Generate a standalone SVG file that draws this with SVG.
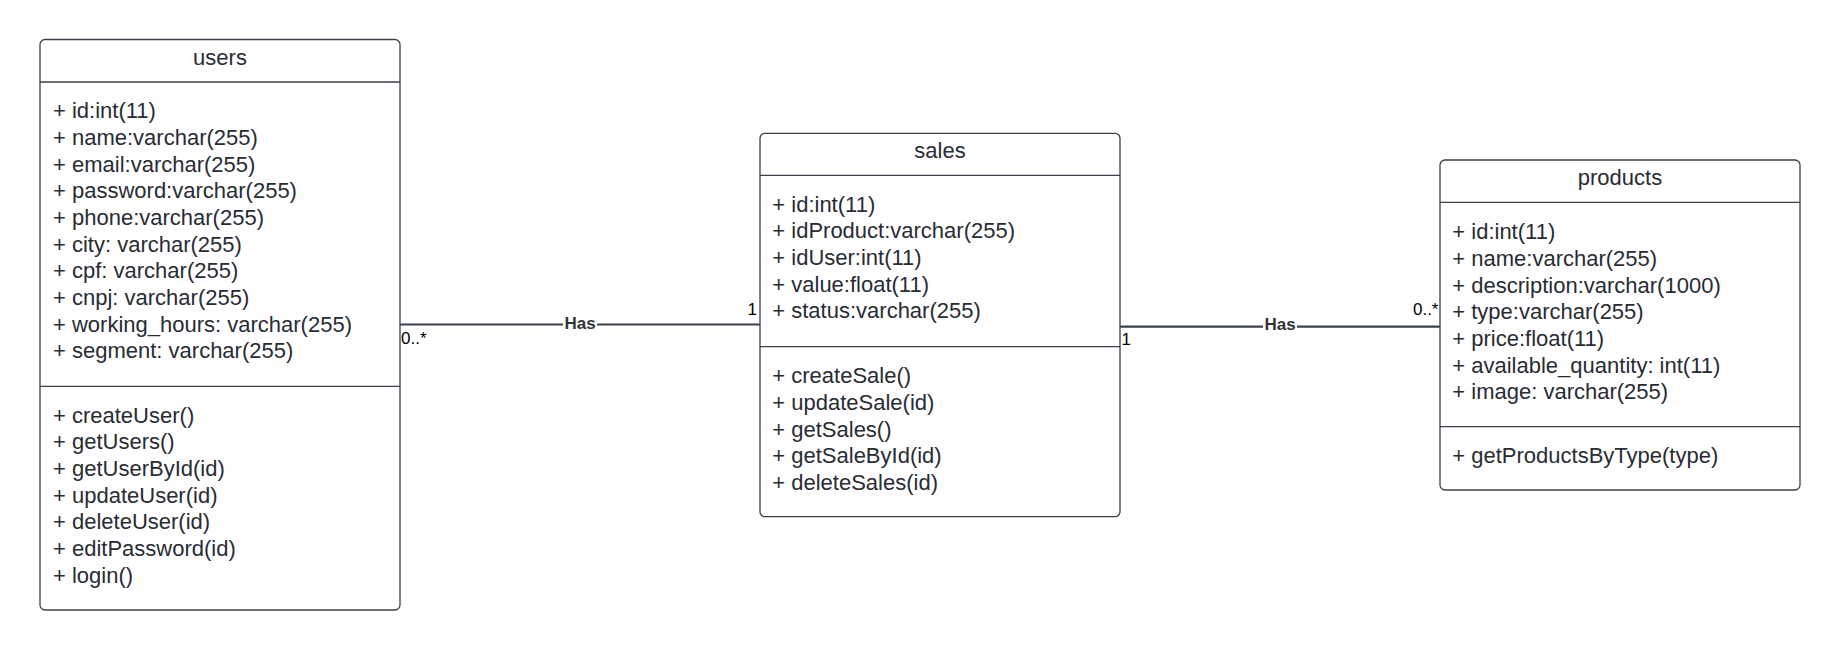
<svg xmlns="http://www.w3.org/2000/svg" width="1840" height="651" viewBox="0 0 1840 651">
<style>
.box{fill:#fff;stroke:#3a414a;stroke-width:1.3}
.div{stroke:#3a414a;stroke-width:1.3}
.t{font-family:"Liberation Sans",Arial,sans-serif;font-size:22px;fill:#282c33}
.title{text-anchor:middle}
.conn{stroke:#3a414a;stroke-width:2.2;fill:none}
.lbl{font-family:"Liberation Sans",Arial,sans-serif;font-size:17px;font-weight:bold;fill:#333;text-anchor:middle}
.m{font-family:"Liberation Sans",Arial,sans-serif;font-size:17px;fill:#000}
</style>
<rect width="1840" height="651" fill="#fff"/>
<g id="connectors">
  <line class="conn" x1="400" y1="324.5" x2="760" y2="324.5"/>
  <rect x="563" y="314" width="34" height="18" fill="#fff"/>
  <text class="lbl" x="580" y="328.5">Has</text>
  <text class="m" x="757" y="314.5" text-anchor="end">1</text>
  <text class="m" x="401" y="343.5">0..*</text>
  <line class="conn" x1="1120" y1="326.7" x2="1440" y2="326.7"/>
  <rect x="1263" y="316" width="34" height="18" fill="#fff"/>
  <text class="lbl" x="1280" y="329.5">Has</text>
  <text class="m" x="1121.5" y="344.5">1</text>
  <text class="m" x="1438.5" y="315" text-anchor="end">0..*</text>
</g>
<g id="users">
  <rect class="box" x="40" y="39.5" width="360" height="570.5" rx="5"/>
  <line class="div" x1="40" y1="82" x2="400" y2="82"/>
  <line class="div" x1="40" y1="386.3" x2="400" y2="386.3"/>
  <text class="t title" x="220" y="65">users</text>
  <text class="t" x="53">
    <tspan x="53" y="118.3">+ id:int(11)</tspan>
    <tspan x="53" y="145">+ name:varchar(255)</tspan>
    <tspan x="53" y="171.6">+ email:varchar(255)</tspan>
    <tspan x="53" y="198.3">+ password:varchar(255)</tspan>
    <tspan x="53" y="225">+ phone:varchar(255)</tspan>
    <tspan x="53" y="251.6">+ city: varchar(255)</tspan>
    <tspan x="53" y="278.3">+ cpf: varchar(255)</tspan>
    <tspan x="53" y="305">+ cnpj: varchar(255)</tspan>
    <tspan x="53" y="331.6">+ working_hours: varchar(255)</tspan>
    <tspan x="53" y="358.3">+ segment: varchar(255)</tspan>
  </text>
  <text class="t" x="53">
    <tspan x="53" y="422.7">+ createUser()</tspan>
    <tspan x="53" y="449.3">+ getUsers()</tspan>
    <tspan x="53" y="476">+ getUserById(id)</tspan>
    <tspan x="53" y="502.7">+ updateUser(id)</tspan>
    <tspan x="53" y="529.3">+ deleteUser(id)</tspan>
    <tspan x="53" y="556">+ editPassword(id)</tspan>
    <tspan x="53" y="582.7">+ login()</tspan>
  </text>
</g>
<g id="sales">
  <rect class="box" x="760" y="133.3" width="360" height="383.4" rx="5"/>
  <line class="div" x1="760" y1="175.3" x2="1120" y2="175.3"/>
  <line class="div" x1="760" y1="346.7" x2="1120" y2="346.7"/>
  <text class="t title" x="940" y="158.3">sales</text>
  <text class="t">
    <tspan x="772.3" y="211.7">+ id:int(11)</tspan>
    <tspan x="772.3" y="238.3">+ idProduct:varchar(255)</tspan>
    <tspan x="772.3" y="265">+ idUser:int(11)</tspan>
    <tspan x="772.3" y="291.7">+ value:float(11)</tspan>
    <tspan x="772.3" y="318.3">+ status:varchar(255)</tspan>
  </text>
  <text class="t">
    <tspan x="772.3" y="383.3">+ createSale()</tspan>
    <tspan x="772.3" y="410">+ updateSale(id)</tspan>
    <tspan x="772.3" y="436.7">+ getSales()</tspan>
    <tspan x="772.3" y="463.3">+ getSaleById(id)</tspan>
    <tspan x="772.3" y="490">+ deleteSales(id)</tspan>
  </text>
</g>
<g id="products">
  <rect class="box" x="1440" y="160" width="360" height="330" rx="5"/>
  <line class="div" x1="1440" y1="202.3" x2="1800" y2="202.3"/>
  <line class="div" x1="1440" y1="426.7" x2="1800" y2="426.7"/>
  <text class="t title" x="1620" y="185">products</text>
  <text class="t">
    <tspan x="1452.3" y="239.3">+ id:int(11)</tspan>
    <tspan x="1452.3" y="266">+ name:varchar(255)</tspan>
    <tspan x="1452.3" y="292.6">+ description:varchar(1000)</tspan>
    <tspan x="1452.3" y="319.3">+ type:varchar(255)</tspan>
    <tspan x="1452.3" y="346">+ price:float(11)</tspan>
    <tspan x="1452.3" y="372.6">+ available_quantity: int(11)</tspan>
    <tspan x="1452.3" y="399.3">+ image: varchar(255)</tspan>
  </text>
  <text class="t">
    <tspan x="1452.3" y="463.3">+ getProductsByType(type)</tspan>
  </text>
</g>
</svg>
